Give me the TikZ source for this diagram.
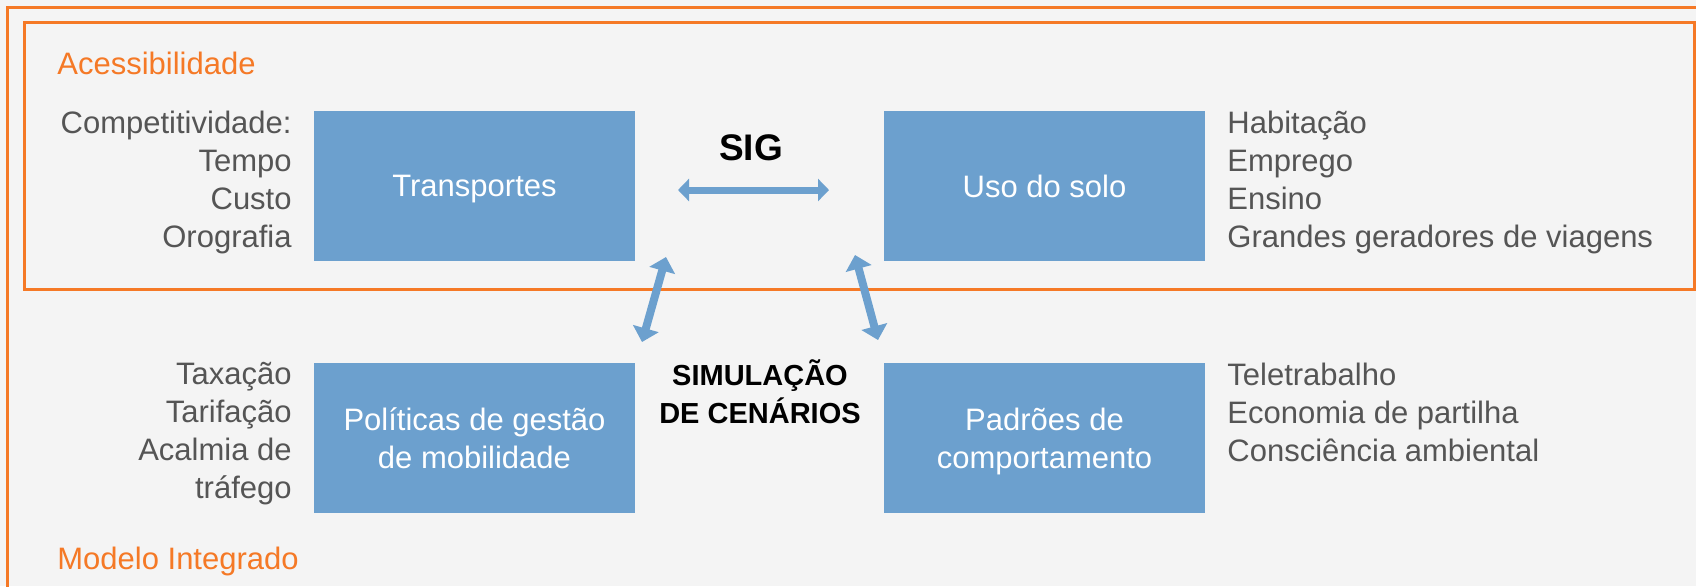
\documentclass[tikz,border=0pt]{standalone}
\usepackage{fontspec}
\setmainfont{Liberation Sans}
\usetikzlibrary{arrows.meta}
\definecolor{laranja}{RGB}{245,121,38}
\definecolor{azul}{RGB}{108,160,206}
\definecolor{cinza}{RGB}{85,85,85}
\definecolor{fundo}{RGB}{244,244,244}
\begin{document}
\begin{tikzpicture}[x=0.5pt,y=-0.5pt,
    caixa/.style={fill=azul,text=white,minimum width=160.5pt,minimum height=75pt,
      align=center,inner sep=0pt,text depth=0pt,font=\fontsize{15.5}{19}\selectfont},
    lista/.style={text=cinza,inner sep=0pt,font=\fontsize{15.5}{19}\selectfont},
    titulo/.style={text=laranja,inner sep=0pt,anchor=base west,font=\fontsize{15.5}{19}\selectfont},
    destaque/.style={inner sep=0pt,anchor=base,align=center,font=\bfseries\fontsize{14.5}{19}\selectfont},
    seta/.style={azul,line width=3.5pt,{Triangle[width=11pt,length=5.5pt]}-{Triangle[width=11pt,length=5.5pt]}},
    setadiag/.style={azul,line width=4pt,{Triangle[width=13pt,length=7pt]}-{Triangle[width=13pt,length=7pt]}}]
    \clip (0,0) rectangle (1696,586);
    \fill[fundo] (0,0) rectangle (1696,586);
    % molduras
    \draw[laranja,line width=1.5pt] (7,7) rectangle (1720,610);
    \draw[laranja,line width=1.5pt] (24,22) rectangle (1694,289);
    \node[titulo] (acess) at (57,74) {Acessibilidade};
    \node[titulo] (modelo) at (57,569) {Modelo Integrado};
    % caixas
    \node[caixa] (trans) at (474.5,186) {Transportes};
    \node[caixa] (solo) at (1044.5,186) {Uso do solo};
    \node[caixa] (polit) at (474.5,438) {Políticas de gestão\\de mobilidade};
    \node[caixa] (padroes) at (1044.5,438) {Padrões de\\comportamento};
    % listas (ancoradas na ultima linha)
    \node[lista,anchor=base east,align=right] (compet) at (292,247) {Competitividade:\\Tempo\\Custo\\Orografia};
    \node[lista,anchor=base west,align=left] (usos) at (1227,247) {Habitação\\Emprego\\Ensino\\Grandes geradores de viagens};
    \node[lista,anchor=base east,align=right] (medidas) at (292,498) {Taxação\\Tarifação\\Acalmia de\\tráfego};
    \node[lista,anchor=base west,align=left] (habitos) at (1227,461) {Teletrabalho\\Economia de partilha\\Consciência ambiental};
    \node[destaque,font=\bfseries\fontsize{18.5}{22}\selectfont] (sig) at (751,160) {SIG};
    \node[destaque] (sim) at (760,423) {SIMULAÇÃO\\DE CENÁRIOS};
    % setas
    \coordinate (sigE) at (678,190);
    \coordinate (sigD) at (829,190);
    \coordinate (transB) at (666,257);
    \coordinate (politT) at (642,342);
    \coordinate (soloB) at (855,255);
    \coordinate (padroesT) at (878,340);
    \draw[seta] (sigE) -- (sigD);
    \draw[setadiag] (transB) -- (politT);
    \draw[setadiag] (soloB) -- (padroesT);
\end{tikzpicture}
\end{document}
